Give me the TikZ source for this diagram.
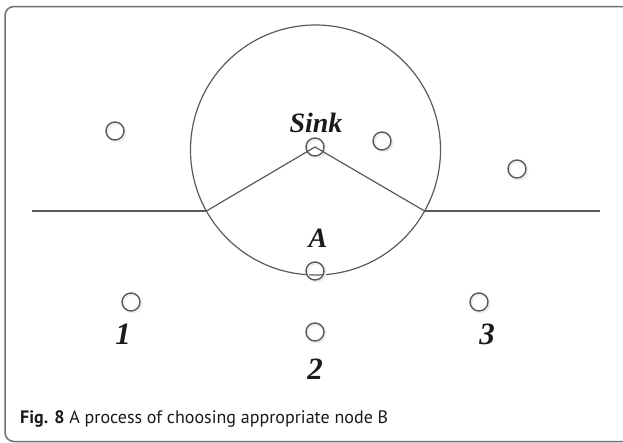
\documentclass[tikz,border=0pt]{standalone}
\usepackage{fontspec}
\setmainfont{Liberation Serif}
\newfontfamily\capfont{PT Sans}
\definecolor{linegray}{HTML}{5A5A5A}
\definecolor{framegray}{HTML}{707070}
\definecolor{shadowgray}{HTML}{EEEEEE}
\definecolor{ink}{HTML}{1A1A1A}
\begin{document}
\begin{tikzpicture}[x=1pt,y=-1pt,
  sensor/.style={circle,draw=linegray,line width=1.4pt,minimum size=18pt,inner sep=0pt},
  lbl/.style={text=ink,font=\fontsize{28}{28}\selectfont\bfseries\itshape,inner sep=0pt},
  numlbl/.style={text=ink,font=\fontsize{31}{31}\selectfont\bfseries\itshape,inner sep=0pt},
  wire/.style={draw=linegray,line width=1.2pt}]
\useasboundingbox (0,0) rectangle (623,442);
\clip (0,0) rectangle (623,442);
% outer frame (rounded box, right and bottom run off the page)
\draw[framegray,line width=1.5pt,rounded corners=9pt] (5,6.5) rectangle (660,441.5);

% communication range of the sink
\node[circle,draw=linegray,line width=1.2pt,minimum size=250pt,inner sep=0pt] (range) at (315.5,150) {};

% soft shadow rings under the sensor nodes
\foreach \p in {(115,131),(382,141),(517,169),(315,147),(315,271),(131,302),(315,332),(479,302)}
  \draw[draw=shadowgray,line width=2pt] \p ++(1.5,1.5) circle (9pt);

% sensor nodes
\node[sensor] (sink) at (315,147) {};
\node[sensor] (n1) at (115,131) {};
\node[sensor] (n2) at (382,141) {};
\node[sensor] (n3) at (517,169) {};
\node[sensor] (a) at (315,271) {};
\node[sensor] (b1) at (131,302) {};
\node[sensor] (b2) at (315,332) {};
\node[sensor] (b3) at (479,302) {};

% boundary of the candidate region
\coordinate (lend) at (32,211);
\coordinate (rend) at (600,211);
\coordinate (pl) at (206.4,211);
\coordinate (pr) at (424.6,211);
\draw[wire] (lend) -- (pl);
\draw[wire] (pr) -- (rend);
\draw[wire] (pl) -- (sink.center) -- (pr);

% labels
\node[lbl] (sinklbl) at (316,123) {Sink};
\node[lbl] (albl) at (318,238) {A};
\node[numlbl] (l1) at (123,334) {1};
\node[numlbl] (l2) at (315,369) {2};
\node[numlbl] (l3) at (487,334) {3};

% caption
\node[anchor=base west,inner sep=0pt,text=ink,font=\capfont\fontsize{18}{18}\selectfont] (cap) at (20,423)
  {\textbf{Fig. 8} A process of choosing appropriate node B};
\end{tikzpicture}
\end{document}
